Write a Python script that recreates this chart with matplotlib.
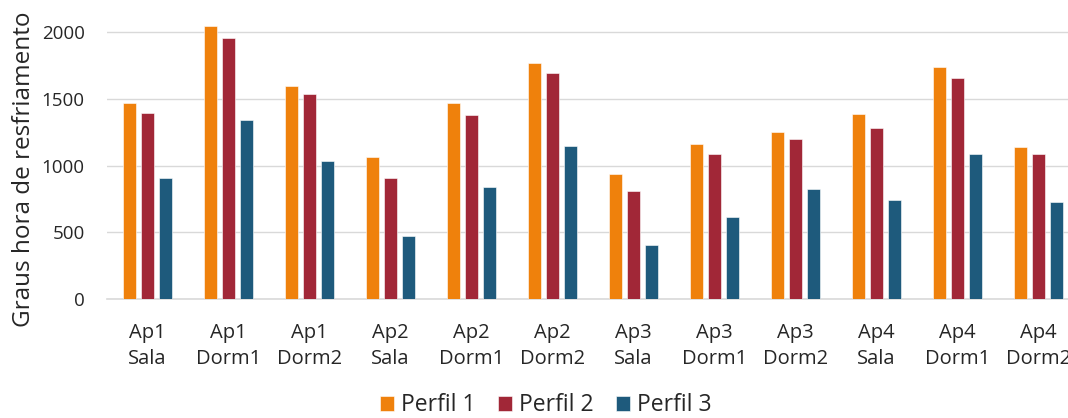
import numpy as np
import matplotlib
matplotlib.use("Agg")
import matplotlib.pyplot as plt

plt.rcParams['font.family'] = ['Open Sans', 'DejaVu Sans']

categories = ["Ap1\nSala", "Ap1\nDorm1", "Ap1\nDorm2",
              "Ap2\nSala", "Ap2\nDorm1", "Ap2\nDorm2",
              "Ap3\nSala", "Ap3\nDorm1", "Ap3\nDorm2",
              "Ap4\nSala", "Ap4\nDorm1", "Ap4\nDorm2"]
perfil1 = [1467, 2045, 1597, 1062, 1467, 1767, 935, 1162, 1250, 1385, 1740, 1140]
perfil2 = [1392, 1955, 1537, 910, 1377, 1692, 807, 1085, 1197, 1282, 1655, 1085]
perfil3 = [910, 1342, 1037, 470, 842, 1147, 402, 612, 825, 740, 1085, 725]
series_names = ["Perfil 1", "Perfil 2", "Perfil 3"]
colors = ["#EF810C", "#A12737", "#1E5A7C"]

fig = plt.figure(figsize=(10.68, 4.18), dpi=100)
# axes run slightly past the right/top edge of the canvas
ax = fig.add_axes([0.1002, 0.2847, 0.910, 0.798])

x = np.arange(len(categories))
width = 0.165
step = 0.222
for i, (vals, name, c) in enumerate(zip([perfil1, perfil2, perfil3], series_names, colors)):
    ax.bar(x + (i - 1) * step, vals, width, color=c, label=name,
           edgecolor="white", linewidth=0.4, zorder=3)

ax.set_xlim(-0.5, len(categories) - 0.5)
ax.set_ylim(0, 2500)
ax.set_yticks([0, 500, 1000, 1500, 2000])
ax.set_xticks(x)
ax.set_xticklabels(categories, fontsize=14.5, color="#262626", linespacing=1.45)
ax.tick_params(axis="y", labelsize=13.5, labelcolor="#262626", length=0, pad=16)
ax.tick_params(axis="x", length=0, pad=17)
ax.grid(axis="y", color="#D9D9D9", linewidth=1, zorder=0)
for s in ["top", "right", "left"]:
    ax.spines[s].set_visible(False)
ax.spines["bottom"].set_color("#D9D9D9")
ax.spines["bottom"].set_linewidth(1.2)

fig.text(24 / 1068, 91 / 418, "Graus hora de resfriamento", rotation=90,
         ha="center", va="bottom", fontsize=17.5, color="#262626")

fig.legend(loc="center", bbox_to_anchor=(0.511, 0.03), ncol=3, frameon=False,
           fontsize=16.5, handlelength=0.6, handleheight=0.6, handletextpad=0.3,
           columnspacing=1.0, labelcolor="#262626")

fig.savefig("out.png", dpi=100)
